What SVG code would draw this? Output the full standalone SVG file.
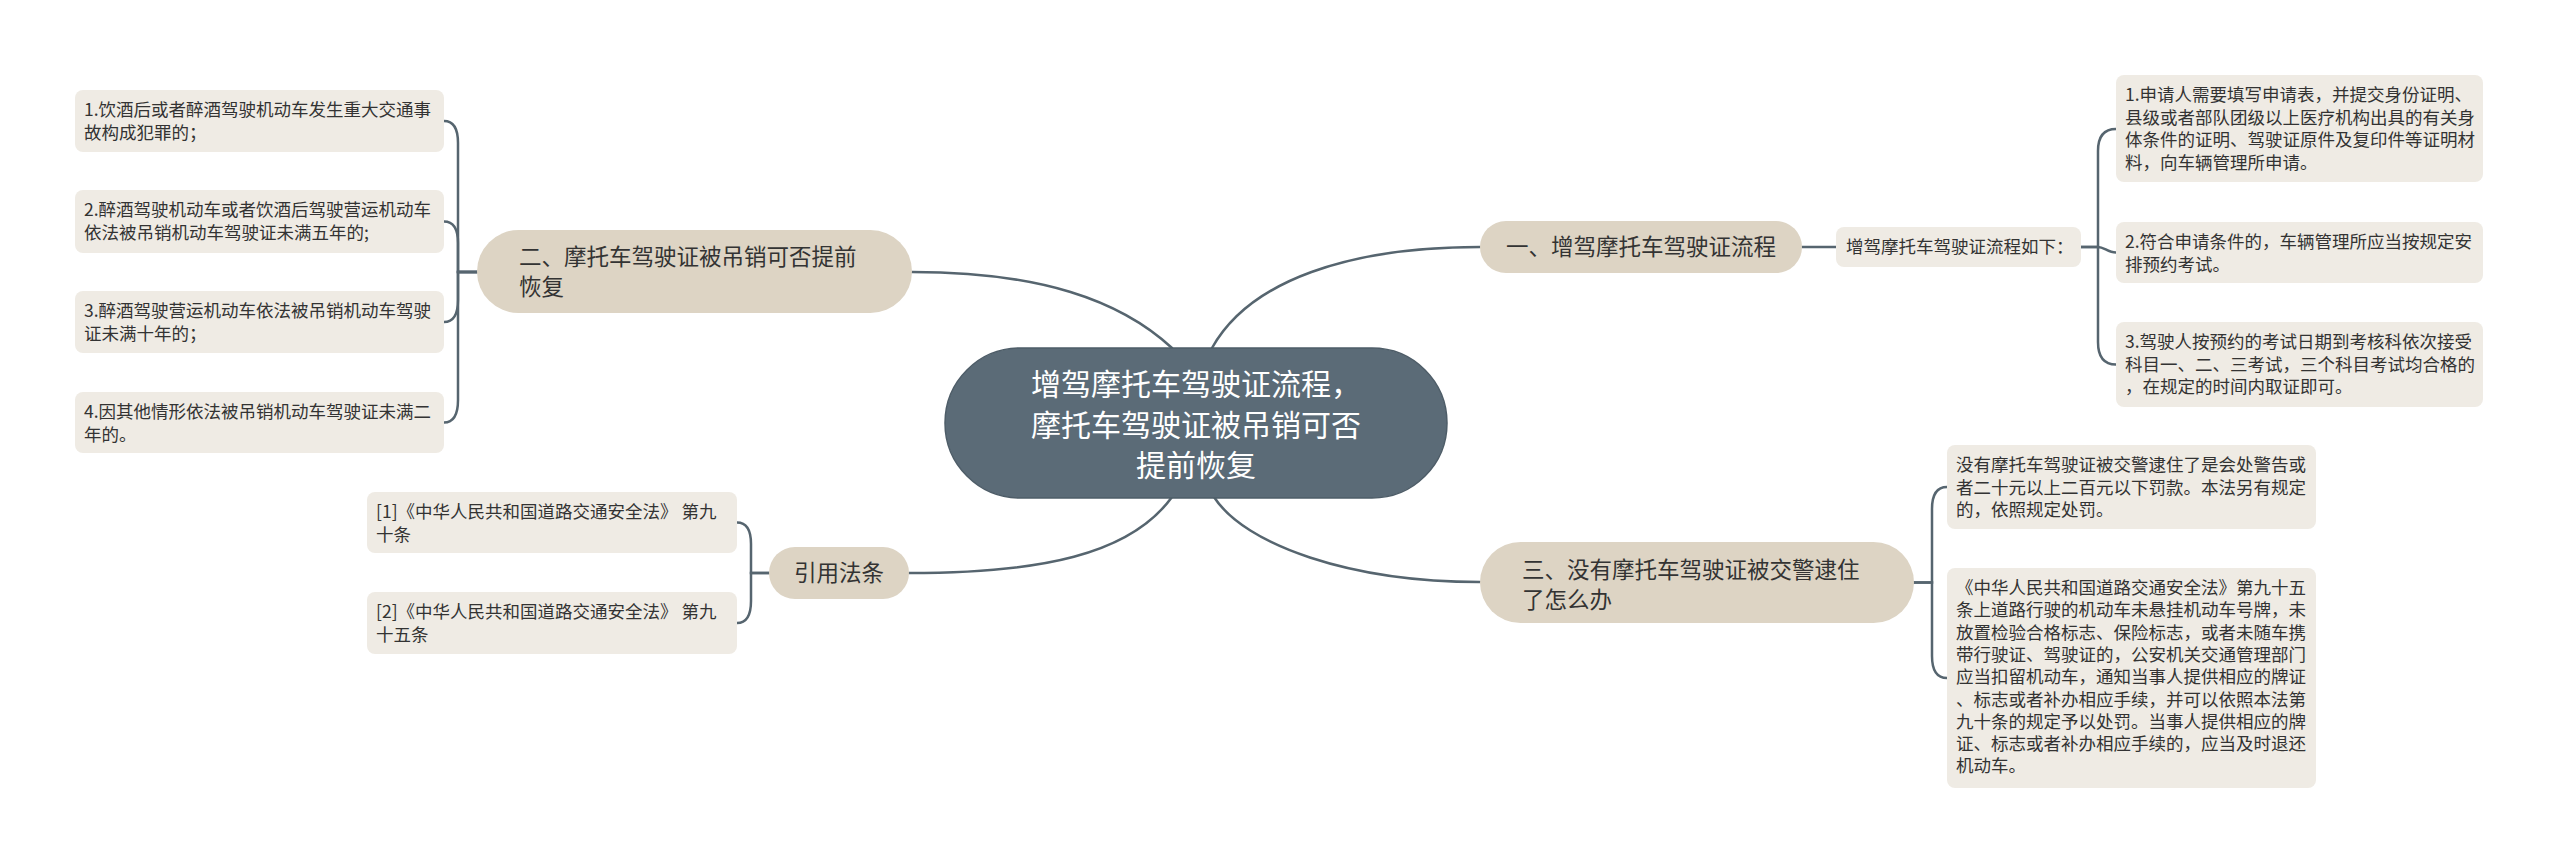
<svg xmlns="http://www.w3.org/2000/svg" width="2560" height="864" viewBox="0 0 2560 864">
<style>
text{font-family:"Noto Sans CJK SC","Noto Sans",sans-serif;fill:#333333}
.leaf rect{fill:#efebe4}
.leaf text{font-size:17.5px}
.branch rect{fill:#ddd4c4}
.branch text{font-size:22.5px}
.center rect{fill:#5b6b77;stroke:#4e5d68;stroke-width:1.5}
.center text{font-size:30px;fill:#ffffff;text-anchor:middle}
.conn path{fill:none;stroke:#56656f;stroke-width:2.5;stroke-linecap:round}
</style>
<rect width="2560" height="864" fill="#ffffff"/>
<g class="conn" id="connectors">
<path d="M1172 348 C1120 300 1040 272 912 272"/>
<path d="M1212 348 C1250 280 1350 247 1480 247"/>
<path d="M1172 497 C1130 555 1040 573 909 573"/>
<path d="M1214 497 C1245 545 1350 582 1480 582"/>
<path d="M477 272 H458 V143 Q458 121 444 121"/>
<path d="M477 272 H458 V243 Q458 221.5 444 221.5"/>
<path d="M477 272 H458 V300 Q458 322 444 322"/>
<path d="M477 272 H458 V400 Q458 422.5 444 422.5"/>
<path d="M769 573 H751 V544 Q751 522.5 737 522.5"/>
<path d="M769 573 H751 V601 Q751 623 737 623"/>
<path d="M1802 247 H1836"/>
<path d="M2081 247 H2098 V151 Q2098 129 2116 129"/>
<path d="M2098 247 C2104 247 2108 252.5 2116 252.5"/>
<path d="M2081 247 H2098 V342 Q2098 364.5 2116 364.5"/>
<path d="M1914 582.5 H1932 V509 Q1932 487 1947 487"/>
<path d="M1914 582.5 H1932 V656 Q1932 678 1947 678"/>
</g>
<g id="center" class="center">
<rect x="945" y="348" width="502" height="150" rx="75"/>
<text x="1196" y="395">增驾摩托车驾驶证流程，</text>
<text x="1196" y="436">摩托车驾驶证被吊销可否</text>
<text x="1196" y="476">提前恢复</text>
</g>
<g id="branch-2" class="branch">
<rect x="477" y="230" width="435" height="83" rx="41.5"/>
<text x="519" y="265">二、摩托车驾驶证被吊销可否提前</text>
<text x="519" y="295">恢复</text>
</g>
<g id="leaf-2-1" class="leaf">
<rect x="75" y="90" width="369" height="62" rx="8"/>
<text x="84" y="116">1.饮酒后或者醉酒驾驶机动车发生重大交通事</text>
<text x="84" y="138.5">故构成犯罪的；</text>
</g>
<g id="leaf-2-2" class="leaf">
<rect x="75" y="190" width="369" height="63" rx="8"/>
<text x="84" y="216">2.醉酒驾驶机动车或者饮酒后驾驶营运机动车</text>
<text x="84" y="238.5">依法被吊销机动车驾驶证未满五年的;</text>
</g>
<g id="leaf-2-3" class="leaf">
<rect x="75" y="291" width="369" height="62" rx="8"/>
<text x="84" y="317">3.醉酒驾驶营运机动车依法被吊销机动车驾驶</text>
<text x="84" y="339.5">证未满十年的；</text>
</g>
<g id="leaf-2-4" class="leaf">
<rect x="75" y="392" width="369" height="61" rx="8"/>
<text x="84" y="418">4.因其他情形依法被吊销机动车驾驶证未满二</text>
<text x="84" y="440.5">年的。</text>
</g>
<g id="branch-law" class="branch">
<rect x="769" y="547" width="140" height="52" rx="26"/>
<text x="839" y="581" text-anchor="middle">引用法条</text>
</g>
<g id="leaf-law-1" class="leaf">
<rect x="367" y="492" width="370" height="61" rx="8"/>
<text x="376" y="518">[1]《中华人民共和国道路交通安全法》 第九</text>
<text x="376" y="540.5">十条</text>
</g>
<g id="leaf-law-2" class="leaf">
<rect x="367" y="592" width="370" height="62" rx="8"/>
<text x="376" y="618">[2]《中华人民共和国道路交通安全法》 第九</text>
<text x="376" y="640.5">十五条</text>
</g>
<g id="branch-1" class="branch">
<rect x="1480" y="221" width="322" height="52" rx="26"/>
<text x="1506" y="255">一、增驾摩托车驾驶证流程</text>
</g>
<g id="leaf-1-0" class="leaf">
<rect x="1836" y="227" width="245" height="40" rx="8"/>
<text x="1846" y="253">增驾摩托车驾驶证流程如下：</text>
</g>
<g id="leaf-1-1" class="leaf">
<rect x="2116" y="75" width="367" height="107" rx="8"/>
<text x="2125" y="101">1.申请人需要填写申请表，并提交身份证明、</text>
<text x="2125" y="123.5">县级或者部队团级以上医疗机构出具的有关身</text>
<text x="2125" y="146">体条件的证明、驾驶证原件及复印件等证明材</text>
<text x="2125" y="168.5">料，向车辆管理所申请。</text>
</g>
<g id="leaf-1-2" class="leaf">
<rect x="2116" y="222" width="367" height="61" rx="8"/>
<text x="2125" y="248">2.符合申请条件的，车辆管理所应当按规定安</text>
<text x="2125" y="270.5">排预约考试。</text>
</g>
<g id="leaf-1-3" class="leaf">
<rect x="2116" y="322" width="367" height="85" rx="8"/>
<text x="2125" y="348">3.驾驶人按预约的考试日期到考核科依次接受</text>
<text x="2125" y="370.5">科目一、二、三考试，三个科目考试均合格的</text>
<text x="2125" y="393">，在规定的时间内取证即可。</text>
</g>
<g id="branch-3" class="branch">
<rect x="1480" y="542" width="434" height="81" rx="40.5"/>
<text x="1522" y="578">三、没有摩托车驾驶证被交警逮住</text>
<text x="1522" y="608">了怎么办</text>
</g>
<g id="leaf-3-1" class="leaf">
<rect x="1947" y="445" width="369" height="84" rx="8"/>
<text x="1956" y="471">没有摩托车驾驶证被交警逮住了是会处警告或</text>
<text x="1956" y="493.5">者二十元以上二百元以下罚款。本法另有规定</text>
<text x="1956" y="516">的，依照规定处罚。</text>
</g>
<g id="leaf-3-2" class="leaf">
<rect x="1947" y="568" width="369" height="220" rx="8"/>
<text x="1956" y="594">《中华人民共和国道路交通安全法》第九十五</text>
<text x="1956" y="616.3">条上道路行驶的机动车未悬挂机动车号牌，未</text>
<text x="1956" y="638.6">放置检验合格标志、保险标志，或者未随车携</text>
<text x="1956" y="660.9">带行驶证、驾驶证的，公安机关交通管理部门</text>
<text x="1956" y="683.2">应当扣留机动车，通知当事人提供相应的牌证</text>
<text x="1956" y="705.5">、标志或者补办相应手续，并可以依照本法第</text>
<text x="1956" y="727.8">九十条的规定予以处罚。当事人提供相应的牌</text>
<text x="1956" y="750.1">证、标志或者补办相应手续的，应当及时退还</text>
<text x="1956" y="772.4">机动车。</text>
</g>
</svg>
